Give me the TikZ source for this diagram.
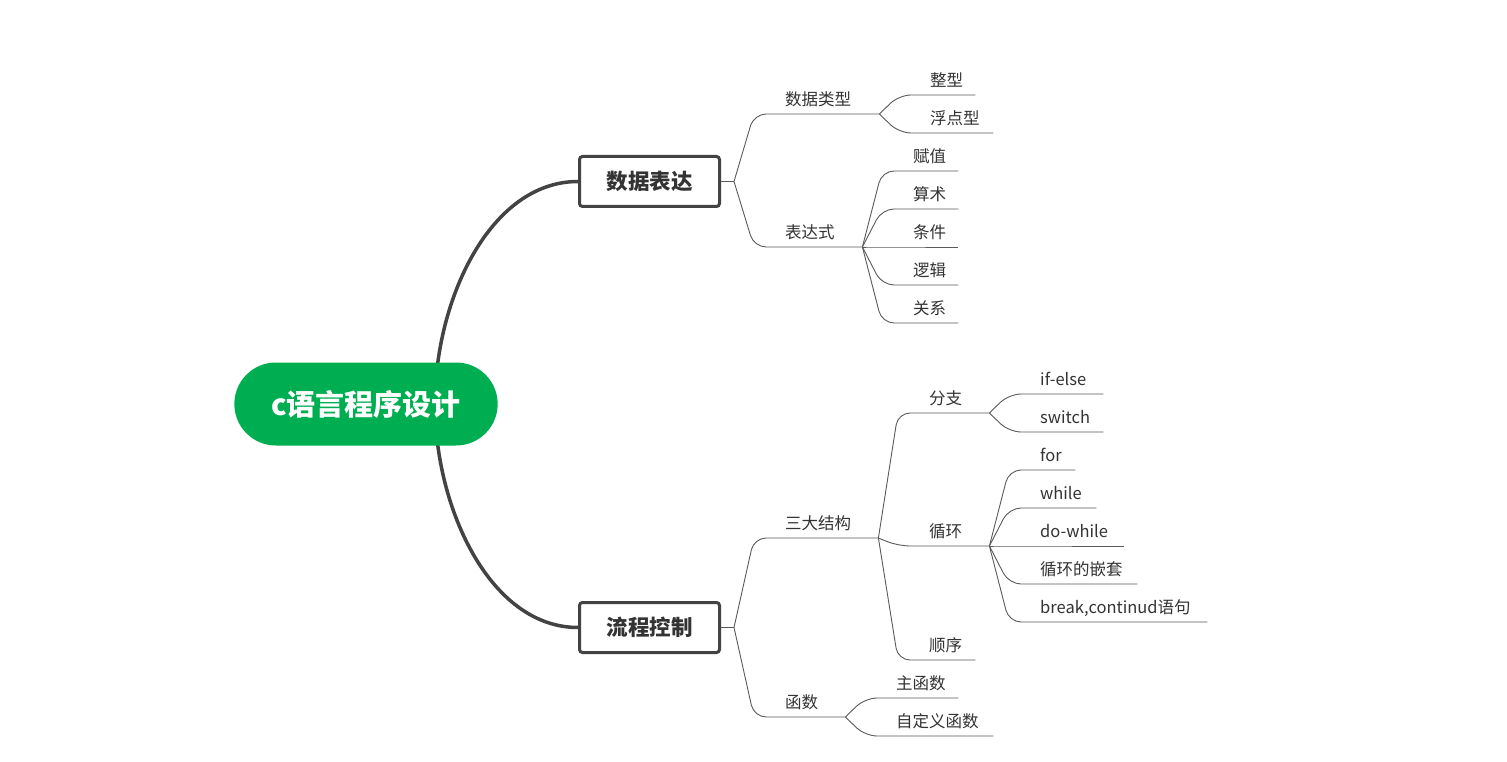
\documentclass[tikz,border=0pt]{standalone}
\usepackage{fontspec}
\setmainfont{Noto Sans CJK SC}
\usetikzlibrary{positioning,shapes.misc,backgrounds}
\definecolor{rootgreen}{HTML}{00AE52}
\definecolor{boxgray}{HTML}{434343}
\definecolor{twiggray}{HTML}{5A5A5A}
\definecolor{txtdark}{HTML}{333333}

\begin{document}
\begin{tikzpicture}[x=1pt,y=-1pt,
  rootnode/.style={rounded rectangle,fill=rootgreen,text=white,minimum width=270pt,minimum height=83pt,font=\fontsize{29}{34}\selectfont\bfseries},
  mainbox/.style={rectangle,draw=boxgray,line width=3pt,rounded corners=3pt,fill=white,text=txtdark,minimum width=140pt,minimum height=50pt,font=\fontsize{21.5}{26}\selectfont\bfseries},
  twig/.style={anchor=south west,inner xsep=0pt,inner ysep=8pt,text depth=0pt,align=left,text width=#1pt,text=txtdark,font=\fontsize{16.5}{20}\selectfont,execute at begin node=\hspace*{31pt}},
  trunk/.style={draw=boxgray,line width=3.5pt},
  branch/.style={draw=twiggray,line width=0.9pt,rounded corners=12pt}]
  \useasboundingbox (0,0) rectangle (1507,762);
  \node[rootnode] (root) at (366,404) {c语言程序设计};
  \node[mainbox] (sjbd) at (649.5,181.5) {数据表达};
  \node[mainbox] (lckz) at (649.5,627.5) {流程控制};
  \draw[branch] (sjbd.east) -- ++(13,0) coordinate (sjbd-o);
  \draw[branch] (lckz.east) -- ++(13,0) coordinate (lckz-o);

  \node[twig=125] (sjlx) at (754,114) {数据类型};
  \node[twig=108] (bds) at (754,247) {表达式};
  \node[twig=76] (zx) at (899,95) {整型};
  \node[twig=94] (fdx) at (899,133) {浮点型};
  \node[twig=76] (fz) at (882,171) {赋值};
  \node[twig=76] (ss) at (882,209) {算术};
  \node[twig=76] (tj) at (882,247) {条件};
  \node[twig=76] (lj) at (882,285) {逻辑};
  \node[twig=76] (gx) at (882,323) {关系};

  \node[twig=124] (sdjg) at (754,538) {三大结构};
  \node[twig=91] (hs) at (754,717) {函数};
  \node[twig=91] (fzh) at (898,413) {分支};
  \node[twig=91] (xh) at (898,546) {循环};
  \node[twig=77] (sx) at (898,660) {顺序};
  \node[twig=94] (ifel) at (1009,394) {if-else};
  \node[twig=94] (swch) at (1009,432) {switch};
  \node[twig=66] (xfor) at (1009,470) {for};
  \node[twig=87] (xwhl) at (1009,508) {while};
  \node[twig=115] (xdow) at (1009,546) {do-while};
  \node[twig=128] (xqt) at (1009,584) {循环的嵌套};
  \node[twig=198] (xbrk) at (1009,622) {break,continud语句};
  \node[twig=93] (zhs) at (865,698) {主函数};
  \node[twig=128] (zdy) at (865,736) {自定义函数};

  \foreach \c in {sjlx,bds} \draw[branch] (sjbd-o) -- (\c.south west) -- (\c.south east);
  \foreach \c in {zx,fdx} \draw[branch] (sjlx.south east) -- (\c.south west) -- (\c.south east);
  \foreach \c in {fz,ss,tj,lj,gx} \draw[branch] (bds.south east) -- (\c.south west) -- (\c.south east);
  \foreach \c in {sdjg,hs} \draw[branch] (lckz-o) -- (\c.south west) -- (\c.south east);
  \foreach \c in {fzh,xh,sx} \draw[branch] (sdjg.south east) -- (\c.south west) -- (\c.south east);
  \foreach \c in {ifel,swch} \draw[branch] (fzh.south east) -- (\c.south west) -- (\c.south east);
  \foreach \c in {xfor,xwhl,xdow,xqt,xbrk} \draw[branch] (xh.south east) -- (\c.south west) -- (\c.south east);
  \foreach \c in {zhs,zdy} \draw[branch] (hs.south east) -- (\c.south west) -- (\c.south east);

  \begin{scope}[on background layer]
    \fill[white] (0,0) rectangle (1507,762);
    \draw[trunk] ([xshift=69]root.center) .. controls +(0,-104) and +(-88,0) .. (sjbd.west);
    \draw[trunk] ([xshift=69]root.center) .. controls +(0,104) and +(-88,0) .. (lckz.west);
  \end{scope}
\end{tikzpicture}
\end{document}
